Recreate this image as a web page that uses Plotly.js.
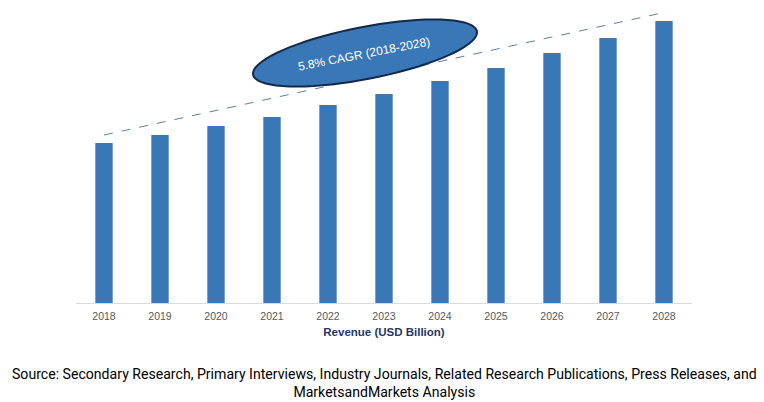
<!DOCTYPE html>
<html>
<head>
<meta charset="utf-8">
<script src="https://cdn.plot.ly/plotly-3.0.1.min.js"></script>
<style>html,body{margin:0;padding:0;background:#fff;}#chart{width:764px;height:402px;}</style>
</head>
<body>
<div id="chart"></div>
<script>
// Data
var years = ['2018','2019','2020','2021','2022','2023','2024','2025','2026','2027','2028'];
var revenue = [16.0, 16.8, 17.7, 18.6, 19.8, 20.9, 22.2, 23.5, 25.0, 26.5, 28.2];
var cagrLabel = '5.8% CAGR (2018-2028)';
var axisTitle = 'Revenue (USD Billion)';
var sourceText = 'Source: Secondary Research, Primary Interviews, Industry Journals, Related Research Publications, Press Releases, and<br>MarketsandMarkets Analysis';

var W = 764, H = 402;
var M = {l: 76, r: 72, t: 10, b: 99};
var pw = W - M.l - M.r, ph = H - M.t - M.b;
function px2x(px){ return (px - M.l) / pw; }
function px2y(py){ return (H - M.b - py) / ph; }

// rotated ellipse path (paper coords)
var cx = 365, cy = 53, ea = 114, eb = 26, th = 11 * Math.PI / 180;
var pts = [];
for (var i = 0; i <= 72; i++) {
  var t = i / 72 * 2 * Math.PI;
  var x = cx + ea * Math.cos(t) * Math.cos(th) + eb * Math.sin(t) * Math.sin(th);
  var y = cy - ea * Math.cos(t) * Math.sin(th) + eb * Math.sin(t) * Math.cos(th);
  pts.push((i === 0 ? 'M' : 'L') + px2x(x).toFixed(5) + ',' + px2y(y).toFixed(5));
}
var ellipsePath = pts.join(' ') + ' Z';

var trace = {
  type: 'bar',
  x: years,
  y: revenue,
  marker: {color: '#3a77b6'},
  hoverinfo: 'x+y'
};

var layout = {
  width: W, height: H,
  margin: M,
  paper_bgcolor: '#ffffff',
  plot_bgcolor: '#ffffff',
  bargap: 0.69,
  showlegend: false,
  xaxis: {
    type: 'category',
    range: [-0.5, 10.5],
    showline: true, linecolor: '#d9d9d9', linewidth: 1,
    ticks: '', showgrid: false, zeroline: false,
    ticklabelstandoff: 3,
    tickfont: {family: 'Liberation Sans, Arial, sans-serif', size: 10.5, color: '#595959'},
    title: {text: axisTitle, standoff: 7, font: {family: 'Liberation Sans, Arial, sans-serif', size: 11.5, color: '#1f3864', weight: 'bold'}}
  },
  yaxis: {
    range: [0, 29.3],
    visible: false, showgrid: false, zeroline: false
  },
  shapes: [
    {type: 'line', xref: 'x', yref: 'y', x0: 0, x1: 10,
     y0: revenue[0] * 1.05, y1: revenue[revenue.length - 1] * 1.03,
     line: {color: '#5b7fa8', width: 1, dash: 'dash'}},
    {type: 'path', xref: 'paper', yref: 'paper', path: ellipsePath,
     fillcolor: '#3a77b6', line: {color: '#14294a', width: 2}}
  ],
  annotations: [
    {xref: 'paper', yref: 'paper', x: px2x(364), y: px2y(54), text: cagrLabel,
     showarrow: false, textangle: -11, xanchor: 'center', yanchor: 'middle',
     font: {family: 'Liberation Sans, Arial, sans-serif', size: 12, color: '#ffffff'}},
    {xref: 'paper', yref: 'paper', x: 0.5, xanchor: 'center', y: px2y(383), yanchor: 'middle',
     xshift: 0, text: sourceText, showarrow: false, align: 'center',
     font: {family: 'Roboto, sans-serif', size: 14.1, color: '#000000'}}
  ]
};

Plotly.newPlot('chart', [trace], layout, {displayModeBar: false, staticPlot: true});
</script>
</body>
</html>
